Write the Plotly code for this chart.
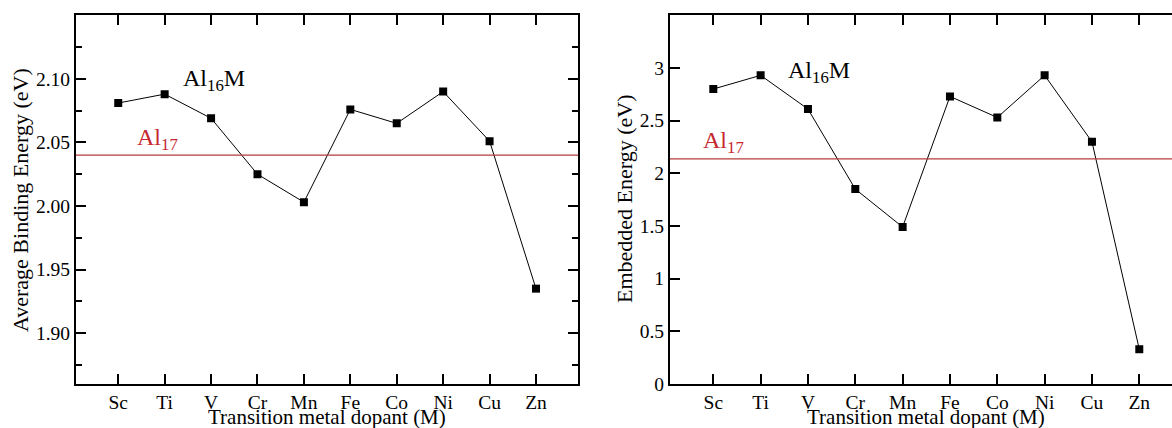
import plotly.graph_objects as go

metals = ["Sc", "Ti", "V", "Cr", "Mn", "Fe", "Co", "Ni", "Cu", "Zn"]
binding_energy = [2.081, 2.088, 2.069, 2.025, 2.003, 2.076, 2.065, 2.090, 2.051, 1.935]
embedded_energy = [2.80, 2.93, 2.61, 1.85, 1.49, 2.73, 2.53, 2.93, 2.30, 0.33]
al17_binding = 2.040
al17_embedded = 2.137

left_yticks = [1.90, 1.95, 2.00, 2.05, 2.10]
left_yticktext = ["1.90", "1.95", "2.00", "2.05", "2.10"]
right_yticks = [0, 0.5, 1, 1.5, 2, 2.5, 3]
right_yticktext = ["0", "0.5", "1", "1.5", "2", "2.5", "3"]

W, H = 1172, 428
FONT = "Liberation Serif, Times New Roman, serif"
RED = "#c62830"
TICKSIZE = 19.5
xpos = list(range(len(metals)))

fig = go.Figure()
fig.add_trace(go.Scatter(x=xpos, y=binding_energy, mode="lines+markers",
                         line=dict(color="black", width=1),
                         marker=dict(symbol="square", size=8, color="black"),
                         xaxis="x", yaxis="y", showlegend=False))
fig.add_trace(go.Scatter(x=[-2, 12], y=[al17_binding] * 2, mode="lines",
                         line=dict(color="#b83a3a", width=1.2),
                         xaxis="x", yaxis="y", showlegend=False))
fig.add_trace(go.Scatter(x=xpos, y=embedded_energy, mode="lines+markers",
                         line=dict(color="black", width=1),
                         marker=dict(symbol="square", size=8, color="black"),
                         xaxis="x2", yaxis="y2", showlegend=False))
fig.add_trace(go.Scatter(x=[-2, 12], y=[al17_embedded] * 2, mode="lines",
                         line=dict(color="#b83a3a", width=1.2),
                         xaxis="x2", yaxis="y2", showlegend=False))

ydom = [1 - 384 / H, 1 - 15.3 / H]
common_x = dict(tickvals=xpos, ticktext=metals, ticks="inside", ticklen=10, tickwidth=1.5,
                tickcolor="black", showline=True, linecolor="black", linewidth=2,
                showgrid=False, zeroline=False, mirror="ticks", automargin=False,
                tickfont=dict(family=FONT, size=TICKSIZE, color="black"))
fig.update_layout(
    width=W, height=H, margin=dict(l=0, r=0, t=0, b=0, pad=0, autoexpand=False),
    paper_bgcolor="white", plot_bgcolor="white",
    xaxis=dict(domain=[76 / W, 578 / W], range=[-0.91, 9.905], anchor="y", **common_x),
    yaxis=dict(domain=ydom, range=[1.86, 2.15], tickvals=left_yticks, ticktext=left_yticktext,
               ticks="inside", ticklen=10, tickwidth=1.5, tickcolor="black",
               minor=dict(dtick=0.025, tick0=1.875, ticks="inside", ticklen=6, tickwidth=1.5,
                          tickcolor="black", showgrid=False),
               showline=True, linecolor="black", linewidth=2, mirror="ticks",
               showgrid=False, zeroline=False, anchor="x", automargin=False,
               tickfont=dict(family=FONT, size=TICKSIZE, color="black")),
    xaxis2=dict(domain=[670 / W, 1.0], range=[-0.915, 9.691], anchor="y2", **common_x),
    yaxis2=dict(domain=ydom, range=[0, 3.5], tickvals=right_yticks, ticktext=right_yticktext,
                ticks="inside", ticklen=10, tickwidth=1.5, tickcolor="black",
                showline=True, linecolor="black", linewidth=2, mirror=False,
                showgrid=False, zeroline=False, anchor="x2", automargin=False,
                tickfont=dict(family=FONT, size=TICKSIZE, color="black")),
)

ann = []
ann.append(dict(text="Average Binding Energy (eV)", xref="paper", yref="paper",
                x=20 / W, y=1 - 200 / H, textangle=-90, showarrow=False,
                font=dict(family=FONT, size=22, color="black"), xanchor="center", yanchor="middle"))
ann.append(dict(text="Embedded Energy (eV)", xref="paper", yref="paper",
                x=624 / W, y=1 - 199 / H, textangle=-90, showarrow=False,
                font=dict(family=FONT, size=22, color="black"), xanchor="center", yanchor="middle"))
ann.append(dict(text="Transition metal dopant (M)", xref="paper", yref="paper",
                x=327 / W, y=1 - 417 / H, showarrow=False,
                font=dict(family=FONT, size=21, color="black"), xanchor="center", yanchor="middle"))
ann.append(dict(text="Transition metal dopant (M)", xref="paper", yref="paper",
                x=926 / W, y=1 - 417 / H, showarrow=False,
                font=dict(family=FONT, size=21, color="black"), xanchor="center", yanchor="middle"))
ann.append(dict(text="Al<sub>16</sub>M", xref="x", yref="y", x=1.35, y=2.099, showarrow=False,
                font=dict(family=FONT, size=24, color="black"), xanchor="left", yanchor="middle"))
ann.append(dict(text="Al<sub>17</sub>", xref="x", yref="y", x=0.36, y=2.053, showarrow=False,
                font=dict(family=FONT, size=24, color=RED), xanchor="left", yanchor="middle"))
ann.append(dict(text="Al<sub>16</sub>M", xref="x2", yref="y2", x=1.54, y=2.96, showarrow=False,
                font=dict(family=FONT, size=24, color="black"), xanchor="left", yanchor="middle"))
ann.append(dict(text="Al<sub>17</sub>", xref="x2", yref="y2", x=-0.26, y=2.30, showarrow=False,
                font=dict(family=FONT, size=24, color=RED), xanchor="left", yanchor="middle"))
fig.update_layout(annotations=ann)

post = "document.body.style.margin='0';document.body.style.overflow='hidden';"
fig.write_html("out.html", config={"displayModeBar": False}, post_script=post)
